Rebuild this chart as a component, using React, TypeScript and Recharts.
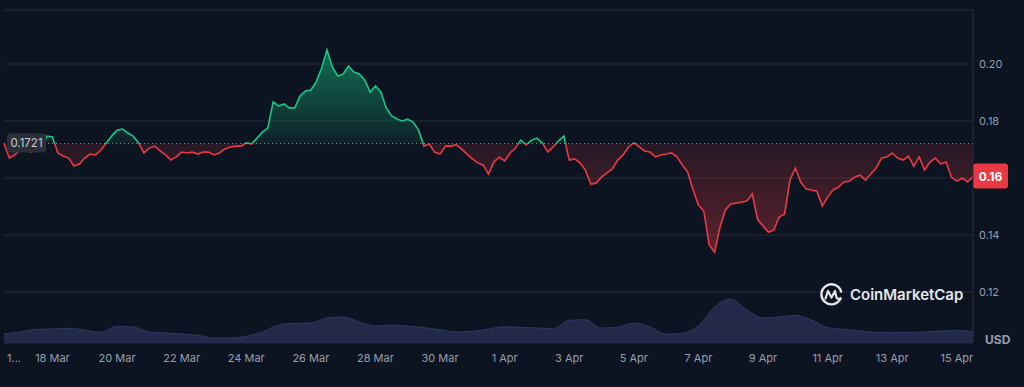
import { Area, CartesianGrid, ComposedChart, ReferenceLine, XAxis, YAxis } from "recharts"

// price every 4 hours, 16 Mar 12:00 -> 15 Apr 12:00
const prices = [
  0.1721, 0.167, 0.1681, 0.1698, 0.1705, 0.1691, 0.1698, 0.1709, 0.1747, 0.1744,
  0.1688, 0.1677, 0.167, 0.1642, 0.1649, 0.167, 0.1684, 0.1681, 0.1698, 0.1723,
  0.1747, 0.1768, 0.1772, 0.1758, 0.1747, 0.1723, 0.1688, 0.1705, 0.1712, 0.1695,
  0.1681, 0.1663, 0.1674, 0.1691, 0.1688, 0.1691, 0.1684, 0.1691, 0.1691, 0.1681,
  0.1688, 0.1702, 0.1709, 0.1712, 0.1712, 0.1723, 0.1719, 0.174, 0.1761, 0.1775,
  0.1867, 0.1853, 0.186, 0.1846, 0.1846, 0.1888, 0.1905, 0.1909, 0.1937, 0.1986,
  0.2049, 0.1989, 0.1958, 0.1965, 0.1993, 0.1972, 0.1965, 0.1944, 0.1902, 0.1923,
  0.1902, 0.1846, 0.1818, 0.1807, 0.18, 0.1807, 0.1796, 0.1768, 0.1712, 0.1719,
  0.1691, 0.1684, 0.1712, 0.1712, 0.1716, 0.1702, 0.1684, 0.1667, 0.1653, 0.1646,
  0.1614, 0.1656, 0.1674, 0.166, 0.1688, 0.1705, 0.1733, 0.1716, 0.1733, 0.174,
  0.1723, 0.1691, 0.1709, 0.173, 0.1747, 0.1663, 0.1667, 0.1653, 0.1628, 0.1579,
  0.1582, 0.1603, 0.1618, 0.1632, 0.1663, 0.1681, 0.1709, 0.1723, 0.1709, 0.1695,
  0.1691, 0.1674, 0.1681, 0.1684, 0.1688, 0.1674, 0.1646, 0.1621, 0.1558, 0.1505,
  0.1484, 0.1365, 0.134, 0.1428, 0.1488, 0.1509, 0.1512, 0.1516, 0.1519, 0.1544,
  0.1453, 0.1432, 0.141, 0.1418, 0.1463, 0.1474, 0.1593, 0.1635, 0.1586, 0.1561,
  0.1558, 0.1554, 0.1502, 0.1533, 0.1558, 0.1568, 0.1586, 0.1589, 0.1603, 0.161,
  0.1593, 0.1614, 0.1635, 0.167, 0.1674, 0.1688, 0.167, 0.1663, 0.1677, 0.1642,
  0.1674, 0.1628, 0.1656, 0.167, 0.1649, 0.1656, 0.1603, 0.1589, 0.16, 0.1586,
  0.1605,
]

// volume every 12 hours (M USD)
const volumes = [
  27, 33, 41, 42, 44, 39, 32, 50, 48, 33, 30, 27, 23, 15, 15, 20, 33, 54, 59, 60,
  75, 78, 63, 51, 53, 51, 46, 40, 33, 35, 42, 49, 47, 45, 43, 68, 70, 45, 48, 60,
  48, 26, 29, 51, 108, 132, 99, 75, 78, 83, 69, 46, 41, 36, 32, 31, 32, 33, 36, 38,
  33,
]

const tickIndex = [0, 9, 21, 33, 45, 57, 69, 81, 93, 105, 117, 129, 141, 153, 165, 177]
const tickLabels = [
  "16 Mar", "18 Mar", "20 Mar", "22 Mar", "24 Mar", "26 Mar", "28 Mar", "30 Mar",
  "1 Apr", "3 Apr", "5 Apr", "7 Apr", "9 Apr", "11 Apr", "13 Apr", "15 Apr",
]
const priceTicks = [0.12, 0.14, 0.16, 0.18, 0.2]
const openPrice = 0.1721

const bg = "#0d1421"
const green = "#16c784"
const red = "#ea3943"
const axisText = "#979dab"

const data = prices.map((price, i) => ({
  i,
  price,
  volume: i % 3 === 0 ? volumes[i / 3] : undefined,
}))

const maxP = Math.max(...prices)
const minP = Math.min(...prices)
const off = (maxP - openPrice) / (maxP - minP)
const lastPrice = prices[prices.length - 1]

const DateTick = ({ x, y, payload }: any) => {
  const label = tickLabels[tickIndex.indexOf(payload.value)]
  const first = payload.value === 0
  return (
    <text
      x={first ? x + 3 : x}
      y={y + 19}
      textAnchor={first ? "start" : "middle"}
      fill={axisText}
      fontSize={11}
      fontFamily="Inter"
    >
      {first ? label.slice(0, 1) + "..." : label}
    </text>
  )
}

// the last-price badge sits on top of the nearby tick, so that tick gets no text
const PriceTick = ({ x, y, payload }: any) => {
  if (Math.abs(payload.value - lastPrice) < 0.006) return <g />
  return (
    <text x={x} y={y} dy="0.355em" textAnchor="start" fill={axisText} fontSize={11} fontFamily="Inter">
      {payload.value.toFixed(2)}
    </text>
  )
}

const OpenLabel = ({ viewBox }: any) => (
  <g>
    <rect x={viewBox.x + 3} y={viewBox.y - 10} width={39} height={19} rx={3} fill="#2a2e38" />
    <text
      x={viewBox.x + 22.5}
      y={viewBox.y + 3.5}
      textAnchor="middle"
      fill="#c6c9d0"
      fontSize={11.5}
      fontFamily="Inter"
    >
      {openPrice}
    </text>
  </g>
)

const LastLabel = ({ viewBox }: any) => (
  <g>
    <rect x={viewBox.x + viewBox.width} y={viewBox.y - 13} width={35} height={25} rx={3} fill={red} />
    <text
      x={viewBox.x + viewBox.width + 17.5}
      y={viewBox.y + 4}
      textAnchor="middle"
      fill="#ffffff"
      fontSize={12}
      fontWeight={700}
      fontFamily="Inter"
    >
      {lastPrice.toFixed(2)}
    </text>
  </g>
)

export default function App() {
  return (
    <div style={{ position: "relative", width: 1024, height: 387, background: bg, fontFamily: "Inter" }}>
      <style>{`body{margin:0;background:${bg}}`}</style>
      <ComposedChart width={1024} height={387} data={data} margin={{ top: 10, right: 0, bottom: 14, left: 4 }}>
        <defs>
          <linearGradient id="priceStroke" x1="0" y1="0" x2="0" y2="1">
            <stop offset={0} stopColor={green} />
            <stop offset={off} stopColor={green} />
            <stop offset={off} stopColor={red} />
            <stop offset={1} stopColor={red} />
          </linearGradient>
          <linearGradient id="priceFill" x1="0" y1="0" x2="0" y2="1">
            <stop offset={0} stopColor={green} stopOpacity={0.5} />
            <stop offset={off} stopColor={green} stopOpacity={0.08} />
            <stop offset={off} stopColor={red} stopOpacity={0.12} />
            <stop offset={1} stopColor={red} stopOpacity={0.35} />
          </linearGradient>
        </defs>
        <CartesianGrid yAxisId="price" vertical={false} stroke="#222938" />
        <XAxis
          dataKey="i"
          type="number"
          domain={[0, 180]}
          ticks={tickIndex}
          interval={0}
          height={30}
          axisLine={false}
          tickLine={false}
          tickSize={0}
          tickMargin={0}
          tick={DateTick}
        />
        <YAxis
          yAxisId="price"
          orientation="right"
          width={51}
          domain={[0.10211, 0.21895]}
          allowDataOverflow
          ticks={priceTicks}
          interval={0}
          tickLine={false}
          tickSize={6}
          tickMargin={0}
          axisLine={{ stroke: "#262d3d" }}
          tick={PriceTick}
        />
        <YAxis yAxisId="vol" hide domain={[0, 1000]} />
        <Area
          yAxisId="vol"
          dataKey="volume"
          type="monotone"
          connectNulls
          stroke="#2e3762"
          strokeWidth={1}
          fill="#232a49"
          fillOpacity={1}
          dot={false}
          activeDot={false}
          isAnimationActive={false}
        />
        <Area
          yAxisId="price"
          dataKey="price"
          type="linear"
          baseValue={openPrice}
          stroke="url(#priceStroke)"
          strokeWidth={1.6}
          fill="url(#priceFill)"
          fillOpacity={1}
          dot={false}
          activeDot={false}
          isAnimationActive={false}
        />
        <ReferenceLine
          yAxisId="price"
          y={openPrice}
          stroke="#8a8f9b"
          strokeWidth={1}
          strokeDasharray="1 3"
          label={OpenLabel}
        />
        <ReferenceLine yAxisId="price" y={lastPrice} stroke="none" strokeOpacity={0} label={LastLabel} />
      </ComposedChart>
      <div
        style={{
          position: "absolute",
          left: 985,
          top: 332,
          fontSize: 12,
          fontWeight: 700,
          color: axisText,
        }}
      >
        USD
      </div>
      <div
        style={{
          position: "absolute",
          left: 819,
          top: 282,
          display: "flex",
          alignItems: "center",
          gap: 6,
          color: "#e4e6ea",
          fontSize: 15,
          fontWeight: 600,
        }}
      >
        <svg width={25} height={25} viewBox="-12.5 -12.5 25 25">
          <path
            d="M 9 4 A 10 10 0 1 1 9.5 -3"
            fill="none"
            stroke="#e4e6ea"
            strokeWidth={2.4}
            strokeLinecap="round"
          />
          <path
            d="M -6 4 L -3.5 -3.5 L 0 3 L 3.5 -3.5 L 5 3 Q 6 5 9 4"
            fill="none"
            stroke="#e4e6ea"
            strokeWidth={2.2}
            strokeLinejoin="round"
            strokeLinecap="round"
          />
        </svg>
        <span>CoinMarketCap</span>
      </div>
    </div>
  )
}
